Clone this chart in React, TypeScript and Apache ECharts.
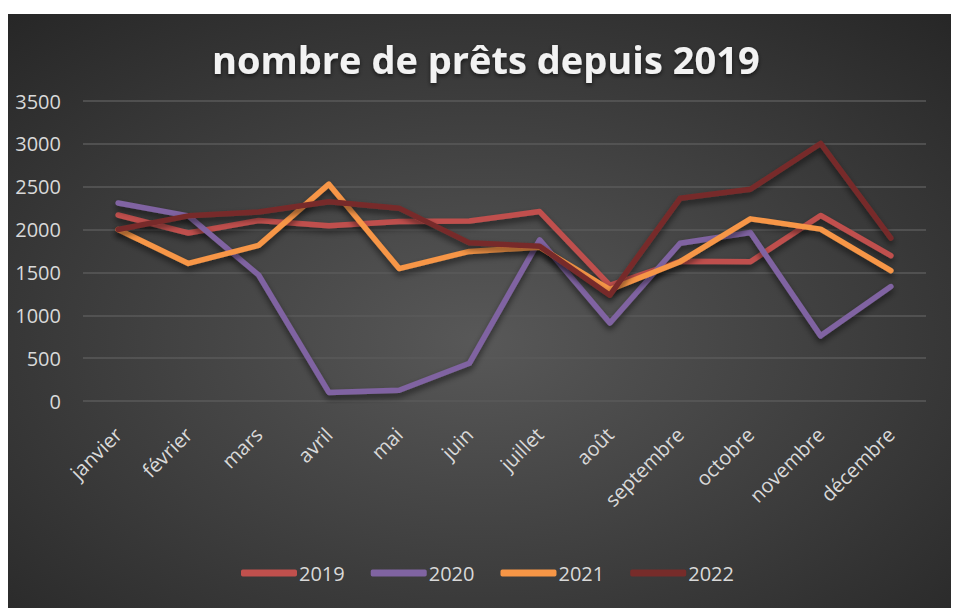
import React, { useEffect, useRef } from "react";
import * as echarts from "echarts";

const categories = ["janvier", "février", "mars", "avril", "mai", "juin", "juillet", "août", "septembre", "octobre", "novembre", "décembre"];
const s2019 = [2170, 1960, 2105, 2045, 2095, 2100, 2210, 1350, 1630, 1625, 2165, 1695];
const s2020 = [2310, 2160, 1470, 100, 125, 440, 1880, 910, 1840, 1965, 760, 1335];
const s2021 = [2000, 1605, 1815, 2530, 1545, 1745, 1795, 1300, 1625, 2125, 2005, 1520];
const s2022 = [2000, 2160, 2205, 2325, 2250, 1845, 1805, 1235, 2365, 2470, 3005, 1900];
const seriesNames = ["2019", "2020", "2021", "2022"];
const colors = ["#C0504D", "#8064A2", "#F79646", "#772C2A"];

export default function App() {
  const ref = useRef<HTMLDivElement>(null);
  useEffect(() => {
    if (!ref.current) return;
    const chart = echarts.init(ref.current, undefined, { renderer: "svg" });
    const data = [s2019, s2020, s2021, s2022];
    chart.setOption({
      animation: false,
      backgroundColor: "transparent",
      title: {
        text: "nombre de prêts depuis 2019",
        left: 207,
        top: 35,
        textStyle: {
          color: "#f2f2f2",
          fontFamily: "Open Sans",
          fontWeight: "bold",
          fontSize: 38,
          textShadowColor: "rgba(0,0,0,0.6)",
          textShadowBlur: 4,
          textShadowOffsetY: 2,
        },
      },
      legend: {
        bottom: 20,
        left: 236,
        itemWidth: 56,
        itemHeight: 7,
        itemGap: 26,
        icon: "roundRect",
        textStyle: { color: "#d9d9d9", fontFamily: "Open Sans", fontSize: 20, padding: [0, 0, 0, -3] },
        data: seriesNames,
      },
      grid: { left: 83, right: 29, top: 101, bottom: 207, containLabel: false },
      xAxis: {
        type: "category",
        data: categories,
        boundaryGap: true,
        axisLine: { show: false },
        axisTick: { show: false },
        axisLabel: {
          rotate: 45,
          interval: 0,
          margin: 30,
          color: "#d9d9d9",
          fontFamily: "Open Sans",
          fontSize: 20,
        },
      },
      yAxis: {
        type: "value",
        min: 0,
        max: 3500,
        interval: 500,
        axisLine: { show: false },
        axisTick: { show: false },
        axisLabel: {
          margin: 22,
          color: "#d9d9d9",
          fontFamily: "Open Sans",
          fontSize: 20,
          formatter: (v: number) => String(v),
        },
        splitLine: { lineStyle: { color: "#5a5a5a", width: 1.5 } },
      },
      series: seriesNames.map((name, i) => ({
        name,
        type: "line",
        data: data[i],
        showSymbol: false,
        symbol: "none",
        lineStyle: {
          color: colors[i],
          width: 5.5,
          cap: "round",
          join: "round",
          shadowColor: "rgba(0,0,0,0.55)",
          shadowBlur: 6,
          shadowOffsetY: 4,
        },
        itemStyle: { color: colors[i] },
      })),
    });
    return () => chart.dispose();
  }, []);
  return (
    <div style={{ position: "fixed", left: 0, top: 0, width: 955, height: 608, background: "#ffffff" }}>
      <div
        style={{
          position: "absolute",
          left: 8,
          top: 14,
          width: 943,
          height: 594,
          background: "radial-gradient(ellipse 75% 75% at 50% 55%, #585858 0%, #262626 100%)",
        }}
      />
      <div ref={ref} style={{ position: "absolute", left: 0, top: 0, width: 955, height: 608 }} />
    </div>
  );
}
